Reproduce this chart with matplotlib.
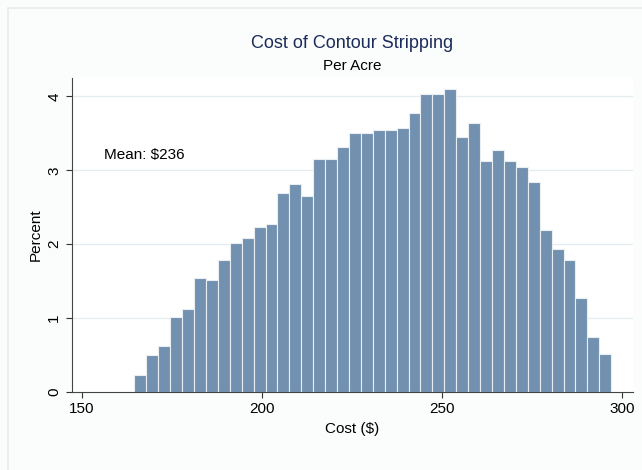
import matplotlib.pyplot as plt
import numpy as np

plt.rcParams['font.family'] = ['Liberation Sans', 'DejaVu Sans']

# histogram of cost per acre, 40 bins, percent in each bin
bin_start = 164.6
bin_width = 3.31
percent = [0.23, 0.50, 0.62, 1.02, 1.12, 1.54, 1.51, 1.79, 2.02, 2.08,
           2.24, 2.28, 2.69, 2.81, 2.65, 3.16, 3.15, 3.32, 3.50, 3.50,
           3.54, 3.54, 3.57, 3.77, 4.04, 4.04, 4.10, 3.45, 3.64, 3.13,
           3.28, 3.12, 3.05, 2.84, 2.19, 1.93, 1.79, 1.27, 0.75, 0.51]
xticks = [150, 200, 250, 300]
yticks = [0, 1, 2, 3, 4]

lefts = bin_start + bin_width * np.arange(len(percent))

fig = plt.figure(figsize=(6.42, 4.70), dpi=100)
fig.patch.set_facecolor('#fbfcfc')
# faint outer frame like the Stata graph region
frame = plt.Rectangle((0.012, -0.02), 1.0, 1.003, transform=fig.transFigure,
                      facecolor='none', edgecolor='#e6ebee', lw=1.2)
fig.patches.append(frame)

ax = fig.add_axes([0.1117, 0.166, 0.874, 0.668])
ax.set_facecolor('white')
ax.bar(lefts, percent, width=bin_width, align='edge', color='#7290af',
       edgecolor='#e9eef3', linewidth=0.8, zorder=2)

ax.set_xlim(147.2, 303)
ax.set_ylim(0, 4.25)
ax.set_xticks(xticks)
ax.set_yticks(yticks)
ax.set_yticklabels([str(t) for t in yticks], rotation=90, va='center')
ax.tick_params(labelsize=11, length=4, color='#333333')
ax.grid(axis='y', color='#e4ecf0', lw=0.9, zorder=0)
for t in ax.yaxis.get_gridlines()[:1]:
    t.set_visible(False)

for s in ['top', 'right']:
    ax.spines[s].set_visible(False)
ax.spines['left'].set_color('#444444')
ax.spines['bottom'].set_color('#444444')

ax.set_xlabel('Cost ($)', fontsize=11)
ax.set_ylabel('Percent', fontsize=11, labelpad=3)

fig.text(0.549, 0.908, 'Cost of Contour Stripping', ha='center', va='center',
         fontsize=13, color='#1c2b5a')
fig.text(0.549, 0.859, 'Per Acre', ha='center', va='center', fontsize=11)
ax.text(0.058, 0.756, 'Mean: $236', transform=ax.transAxes, fontsize=11,
        ha='left', va='center')

fig.savefig('out.png', dpi=100, facecolor=fig.get_facecolor())
